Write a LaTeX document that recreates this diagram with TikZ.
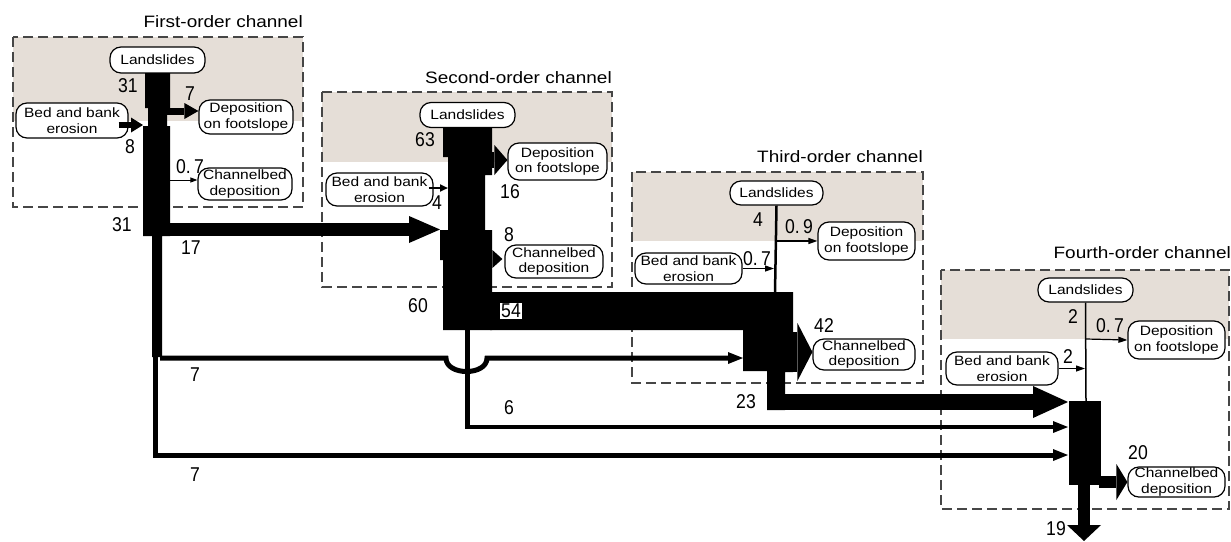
\documentclass[tikz,border=0pt]{standalone}
\usepackage{fontspec}
\setmainfont{Liberation Sans}[FakeStretch=1.15]
\newfontfamily\numfont{Liberation Sans}[FakeStretch=0.88]
\usepackage{tikz}
\usetikzlibrary{arrows.meta,calc}
\definecolor{slopebeige}{RGB}{229,222,215}
\definecolor{dashgray}{RGB}{70,70,70}

\tikzset{
  srcbox/.style={draw, rounded corners=11pt, fill=white, align=center,
                 inner sep=1pt, line width=1.2pt,
                 font=\fontsize{13.5}{15.5}\selectfont},
  numlabel/.style={font=\numfont\fontsize{20}{20}\selectfont, inner sep=0pt},
  chtitle/.style={font=\fontsize{16.5}{17}\selectfont, inner sep=0pt, anchor=base east},
  chbox/.style={draw=dashgray, dash pattern=on 10pt off 5pt, line width=1.2pt},
  flow/.style={fill=black},
}

\begin{document}
\begin{tikzpicture}[x=1pt, y=-1pt]
  \useasboundingbox (0,0) rectangle (1231,541);

  % channel frames, hillslope part shaded
  \fill[slopebeige] (13,37) rectangle (303,121);
  \draw[chbox] (13,37) rectangle (303,207);
  \node[chtitle] (title1) at (303,27) {First-order channel};

  \fill[slopebeige] (322,92) rectangle (612,162);
  \draw[chbox] (322,92) rectangle (612,287);
  \node[chtitle] (title2) at (612,83) {Second-order channel};

  \fill[slopebeige] (632,172) rectangle (923,241);
  \draw[chbox] (632,172) rectangle (923,383);
  \node[chtitle] (title3) at (923,162) {Third-order channel};

  \fill[slopebeige] (941,270) rectangle (1229,339);
  \draw[chbox] (941,270) rectangle (1229,509);
  \node[chtitle] (title4) at (1231,258) {Fourth-order channel};

  % sources and sinks
  \node[srcbox, minimum width=95pt, minimum height=26pt] (ls1) at (157.5,60) {Landslides};
  \node[srcbox, minimum width=112pt, minimum height=35pt] (bb1) at (72,120.5) {Bed and bank\\erosion};
  \node[srcbox, minimum width=94pt, minimum height=34pt] (dep1) at (246,117) {Deposition\\on footslope};
  \node[srcbox, minimum width=94pt, minimum height=32pt] (cb1) at (245,184) {Channelbed\\deposition};

  \node[srcbox, minimum width=95pt, minimum height=25pt] (ls2) at (467.5,115) {Landslides};
  \node[srcbox, minimum width=107pt, minimum height=33pt] (bb2) at (379.5,189.5) {Bed and bank\\erosion};
  \node[srcbox, minimum width=99pt, minimum height=37pt] (dep2) at (557.5,161.5) {Deposition\\on footslope};
  \node[srcbox, minimum width=98pt, minimum height=33pt] (cb2) at (554,261.5) {Channelbed\\deposition};

  \node[srcbox, minimum width=93pt, minimum height=24pt] (ls3) at (776.5,193) {Landslides};
  \node[srcbox, minimum width=97pt, minimum height=38pt] (dep3) at (866.5,241) {Deposition\\on footslope};
  \node[srcbox, minimum width=107pt, minimum height=31pt] (bb3) at (688.5,268.5) {Bed and bank\\erosion};
  \node[srcbox, minimum width=102pt, minimum height=31pt] (cb3) at (864,354.5) {Channelbed\\deposition};

  \node[srcbox, minimum width=95pt, minimum height=24pt] (ls4) at (1085.5,290) {Landslides};
  \node[srcbox, minimum width=97pt, minimum height=38pt] (dep4) at (1176.5,340) {Deposition\\on footslope};
  \node[srcbox, minimum width=112pt, minimum height=33pt] (bb4) at (1002,368.5) {Bed and bank\\erosion};
  \node[srcbox, minimum width=97pt, minimum height=30pt] (cb4) at (1176.5,482) {Channelbed\\deposition};

  % first-order channel
  \fill[flow] (145,73) -- (170,73) -- (170,108) -- (167,108) -- (167,126) -- (170,126)
    -- (170,236) -- (162,236) -- (162,357) -- (152,357) -- (152,236) -- (143,236)
    -- (143,126) -- (148,126) -- (148,108) -- (145,108) -- cycle;
  \draw[line width=6pt, -{Triangle[length=12pt,width=15pt,line width=0pt]}]
    ($(bb1.east)+(-10,4.5)$) -- (143,125);
  \draw[line width=7pt, -{Triangle[length=14pt,width=16pt,line width=0pt]}]
    (167,111) -- ($(dep1.west)+(0,-6)$);
  \draw[line width=1pt, -{Triangle[length=7pt,width=5pt]}]
    (170,180) -- ($(cb1.west)+(0,-4)$);
  \draw[line width=13pt, -{Triangle[length=31pt,width=27pt,line width=0pt]}]
    (168,229.5) -- (440,229.5);

  % second-order channel
  \fill[flow] (443,127) -- (492,127) -- (492,175) -- (485,175) -- (485,230) -- (492,230)
    -- (492,330) -- (443,330) -- (443,260) -- (440,260) -- (440,230) -- (448,230)
    -- (448,157) -- (443,157) -- cycle;
  \draw[line width=2pt, -{Triangle[length=8pt,width=7pt]}]
    ($(bb2.east)+(-5,-1.5)$) -- (448,188);
  \draw[line width=16pt, -{Triangle[length=13pt,width=30pt,line width=0pt]}]
    (485,160) -- ($(dep2.west)+(0,-1.5)$);
  \draw[line width=10pt, -{Triangle[length=10pt,width=18pt,line width=0pt]}]
    (485,259) -- ($(cb2.west)+(-2,-2.5)$);

  % third-order channel
  \fill[flow] (490,292) -- (793,292) -- (793,372) -- (785,372) -- (785,410) -- (767,410)
    -- (767,371) -- (743,371) -- (743,330) -- (490,330) -- cycle;
  \draw[line width=2.5pt] (ls3.south) -- (775,293);
  \draw[line width=1.2pt, -{Triangle[length=9pt,width=6pt]}] (775,241) -- (dep3.west);
  \draw[line width=1.2pt, -{Triangle[length=9pt,width=6pt]}] (bb3.east) -- (774,268.5);
  \draw[line width=40pt, -{Triangle[length=15pt,width=58pt,line width=0pt]}]
    (790,352) -- ($(cb3.west)+(0,-2.5)$);
  \draw[line width=16pt, -{Triangle[length=35pt,width=32pt,line width=0pt]}]
    (770,402) -- (1068,402);

  % fourth-order channel
  \fill[flow] (1069,401) rectangle (1101,485);
  \draw[line width=1.5pt] (ls4.south) -- (1086,401);
  \draw[line width=1.2pt, -{Triangle[length=9pt,width=6pt]}] (1086,339) -- (dep4.west);
  \draw[line width=1.2pt, -{Triangle[length=9pt,width=6pt]}] (bb4.east) -- (1085,368.5);
  \draw[line width=12pt, -{Triangle[length=11pt,width=36pt,line width=0pt]}]
    (1099,482) -- (cb4.west);
  \draw[line width=12pt, -{Triangle[length=16pt,width=34pt,line width=0pt]}]
    (1084,483) -- (1084,541);

  % direct transfers to lower orders
  \draw[line width=5pt, -{Triangle[length=15pt,width=12pt,line width=0pt]}]
    (160,358) -- (446,358) .. controls (446,376) and (487,376) .. (487,358) -- (743,358);
  \draw[line width=5pt, -{Triangle[length=15pt,width=12pt,line width=0pt]}]
    (155,355) -- (155,455) -- (1068,455);
  \draw[line width=4.5pt, -{Triangle[length=15pt,width=12pt,line width=0pt]}]
    (467.5,328) -- (467.5,427) -- (1068,427);

  % sediment volumes
  \node[numlabel] (v31a) at (128,86) {31};
  \node[numlabel] (v7a) at (190,94) {7};
  \node[numlabel] (v8a) at (130,147) {8};
  \node[numlabel] (v07a) at (190,167) {0.\,7};
  \node[numlabel] (v31b) at (122,225) {31};
  \node[numlabel] (v17) at (191,248) {17};
  \node[numlabel] (v63) at (425,140) {63};
  \node[numlabel] (v4a) at (437,203) {4};
  \node[numlabel] (v16) at (510,192) {16};
  \node[numlabel] (v8b) at (509,235) {8};
  \node[numlabel] (v60) at (418,306) {60};
  \node[numlabel, fill=white, inner sep=1.5pt] (v54) at (511,311) {54};
  \node[numlabel] (v4b) at (758,220) {4};
  \node[numlabel] (v09) at (799,227) {0.\,9};
  \node[numlabel] (v07b) at (757,259) {0.\,7};
  \node[numlabel] (v42) at (824,326) {42};
  \node[numlabel] (v23) at (746,402) {23};
  \node[numlabel] (v7b) at (195,375) {7};
  \node[numlabel] (v6) at (509,408) {6};
  \node[numlabel] (v7c) at (195,475) {7};
  \node[numlabel] (v2a) at (1073,317) {2};
  \node[numlabel] (v07c) at (1110,326) {0.\,7};
  \node[numlabel] (v2b) at (1068,357) {2};
  \node[numlabel] (v20) at (1138,453) {20};
  \node[numlabel] (v19) at (1056,529) {19};
\end{tikzpicture}
\end{document}
